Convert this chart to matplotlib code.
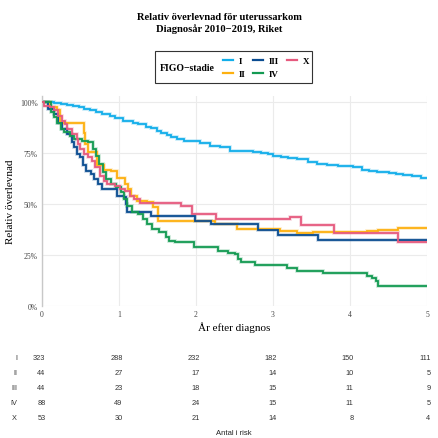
import matplotlib
matplotlib.use("Agg")
import matplotlib.pyplot as plt
from matplotlib.patches import Rectangle

# ------------------------------------------------------------------ #
#  DATA  (step curves, value after each time)
# ------------------------------------------------------------------ #
STAGES = ["I", "II", "III", "IV", "X"]
COLORS = ["#12AEEA", "#FDB00F", "#0A4C91", "#139A52", "#E65A7E"]

t_I = [0, 0.15, 0.25, 0.32, 0.40, 0.48, 0.55, 0.62, 0.70, 0.78, 0.88, 0.95,
       1.05, 1.18, 1.25, 1.35, 1.42, 1.49, 1.55, 1.62, 1.68, 1.75, 1.85, 2.05,
       2.18, 2.31, 2.44, 2.74, 2.85, 2.93, 3.00, 3.10, 3.20, 3.31, 3.45, 3.57,
       3.70, 3.85, 4.04, 4.15, 4.25, 4.35, 4.50, 4.60, 4.69, 4.80, 4.92]
s_I = [100, 99.6, 99.2, 98.8, 98.0, 97.4, 96.8, 96.0, 95.0, 94.2, 93.0, 92.2,
       91.0, 90.0, 89.2, 88.0, 87.2, 86.0, 85.0, 84.0, 83.0, 82.0, 81.0, 80.0,
       78.6, 78.0, 76.3, 75.6, 75.0, 74.4, 73.8, 73.0, 72.5, 72.0, 70.5, 69.5,
       69.0, 68.5, 68.0, 67.0, 66.5, 66.0, 65.5, 65.0, 64.4, 63.8, 63.0]

t_II = [0, 0.10, 0.19, 0.23, 0.49, 0.54, 0.56, 0.60, 0.71, 0.80, 0.90, 0.97,
        1.08, 1.12, 1.16, 1.23, 1.36, 1.44, 1.51, 2.25, 2.53, 3.09, 3.31, 3.52,
        3.80, 4.22, 4.36, 4.62]
s_II = [100, 97.5, 96.0, 90.0, 90.0, 85.0, 79.5, 75.5, 69.0, 67.0, 66.5, 63.0,
        60.0, 57.5, 54.0, 51.8, 51.0, 48.5, 42.0, 40.3, 37.9, 37.0, 36.0, 36.3,
        36.6, 37.0, 37.5, 38.2]

t_III = [0, 0.08, 0.15, 0.21, 0.26, 0.32, 0.39, 0.42, 0.45, 0.49, 0.53, 0.57,
         0.63, 0.68, 0.73, 0.78, 0.97, 1.06, 1.09, 1.11, 1.42, 1.99, 2.20, 2.81,
         3.07, 3.59]
s_III = [100, 96.7, 94.0, 90.0, 87.0, 84.5, 80.4, 78.0, 74.7, 73.0, 69.0, 66.5,
         64.8, 62.4, 60.0, 57.5, 54.0, 53.4, 50.0, 46.0, 44.4, 42.0, 40.3, 37.5,
         35.0, 32.5]

t_IV = [0, 0.12, 0.16, 0.20, 0.25, 0.29, 0.37, 0.42, 0.52, 0.60, 0.66, 0.70,
        0.74, 0.79, 0.83, 0.89, 0.96, 1.03, 1.07, 1.11, 1.17, 1.25, 1.31, 1.37,
        1.43, 1.52, 1.61, 1.65, 1.73, 1.98, 2.28, 2.41, 2.50, 2.55, 2.58, 2.76,
        3.18, 3.31, 3.65, 4.22, 4.28, 4.34, 4.36]
s_IV = [100, 95.0, 92.6, 90.0, 87.0, 85.3, 83.6, 82.0, 81.0, 80.4, 77.0, 73.8,
        69.7, 65.7, 62.4, 60.0, 58.3, 55.9, 52.6, 49.3, 46.0, 45.2, 42.8, 40.3,
        37.9, 36.3, 33.8, 32.2, 31.4, 29.0, 27.3, 26.1, 25.6, 23.2, 21.6, 20.2,
        18.8, 17.5, 16.2, 15.0, 13.7, 12.5, 10.1]

t_X = [0, 0.02, 0.10, 0.15, 0.21, 0.26, 0.30, 0.32, 0.39, 0.45, 0.47, 0.49,
       0.54, 0.60, 0.65, 0.69, 0.75, 0.80, 0.84, 0.95, 1.01, 1.08, 1.14, 1.19,
       1.27, 1.80, 1.95, 2.26, 3.22, 3.37, 3.79, 4.62]
s_X = [100, 98.3, 97.5, 96.0, 93.4, 91.0, 89.4, 87.0, 84.5, 82.0, 79.6, 77.0,
       74.7, 73.0, 71.4, 68.0, 64.0, 61.6, 60.0, 59.0, 57.5, 56.7, 54.2, 52.6,
       50.6, 49.1, 45.1, 42.9, 43.5, 40.0, 36.0, 31.5]

TIMES = [t_I, t_II, t_III, t_IV, t_X]
SURV = [s_I, s_II, s_III, s_IV, s_X]

RISK_YEARS = [0, 1, 2, 3, 4, 5]
RISK = [
    [323, 288, 232, 182, 150, 111],
    [44, 27, 17, 14, 10, 5],
    [44, 23, 18, 15, 11, 9],
    [88, 49, 24, 15, 11, 5],
    [53, 30, 21, 14, 8, 4],
]

# ------------------------------------------------------------------ #
#  STYLE
# ------------------------------------------------------------------ #
SERIF = ["Liberation Serif", "DejaVu Serif"]
SANS = ["Liberation Sans", "DejaVu Sans"]
GRID = "#ebebeb"
TICK = "#444444"
W, H = 439, 439

fig = plt.figure(figsize=(W / 100, H / 100), dpi=100)
fig.patch.set_facecolor("white")
ax = fig.add_axes([42 / W, 1 - 307.3 / H, 385 / W, 210.3 / H])
ax.set_xlim(0, 5)
ax.set_ylim(0, 103)

for t, s, c, lab in zip(TIMES, SURV, COLORS, STAGES):
    tt = list(t) + [5]
    ss = list(s) + [s[-1]]
    ax.step(tt, ss, where="post", color=c, lw=2.6, alpha=0.25,
            solid_joinstyle="miter", zorder=2)
    ax.step(tt, ss, where="post", color=c, lw=1.3, label=lab,
            solid_joinstyle="miter", zorder=3)

ax.set_xticks(RISK_YEARS)
ax.set_yticks([0, 25, 50, 75, 100])
ax.set_yticklabels(["0%", "25%", "50%", "75%", "100%"])
ax.grid(True, color=GRID, lw=0.8)
ax.set_axisbelow(True)
for side in ("top", "right", "bottom"):
    ax.spines[side].set_visible(False)
ax.spines["left"].set_color("#c8c8c8")
ax.spines["left"].set_linewidth(1.0)
ax.tick_params(length=0, pad=3, labelsize=5.5, labelcolor=TICK)
for lbl in ax.get_xticklabels() + ax.get_yticklabels():
    lbl.set_family(SERIF)

ax.set_xlabel("År efter diagnos", family=SERIF, fontsize=8, labelpad=2)
ax.set_ylabel("Relativ överlevnad", family=SERIF, fontsize=8, labelpad=4)

# title
fig.text(0.5, 1 - 17 / H, "Relativ överlevnad för uterussarkom",
         ha="center", va="center", family=SERIF, fontsize=7.6, weight="bold")
fig.text(0.5, 1 - 29.5 / H, "Diagnosår 2010−2019, Riket",
         ha="center", va="center", family=SERIF, fontsize=7.6, weight="bold")

# legend: framed box with the title to the left of the entries
fig.add_artist(Rectangle((155 / W, 1 - 84 / H), 157 / W, 32 / H,
                         transform=fig.transFigure, fill=False,
                         edgecolor="#333333", lw=0.8))
fig.text(160 / W, 1 - 69 / H, "FIGO−stadie", ha="left", va="center",
         family=SERIF, fontsize=7, weight="bold")
handles, labels = ax.get_legend_handles_labels()
leg = fig.legend(handles, labels, ncol=3, loc="center",
                 bbox_to_anchor=(266 / W, 1 - 68.5 / H), frameon=False,
                 prop={"family": SERIF, "size": 6.5, "weight": "bold"},
                 handlelength=1.1, handletextpad=0.6, columnspacing=0.9,
                 labelspacing=0.45, borderpad=0)
for ln in leg.get_lines():
    ln.set_linewidth(1.6)
    ln.set_alpha(1)

# risk table
row_y = [358.3, 373.3, 388.8, 403.3, 418.3]
for lab, counts, py in zip(STAGES, RISK, row_y):
    yf = 1 - py / H
    fig.text(17 / W, yf, lab, ha="right", va="center", family=SANS,
             fontsize=5.3, color="#333333")
    for yr, n in zip(RISK_YEARS, counts):
        xf = (42 + yr * 77 + 3.5) / W
        fig.text(xf, yf, str(n), ha="right", va="center", family=SANS,
                 fontsize=5.3, color="#333333")
fig.text(234 / W, 1 - 434 / H, "Antal i risk", ha="center", va="center",
         family=SANS, fontsize=5.5, color="#222222")

fig.savefig("out.png", dpi=100, facecolor="white")
